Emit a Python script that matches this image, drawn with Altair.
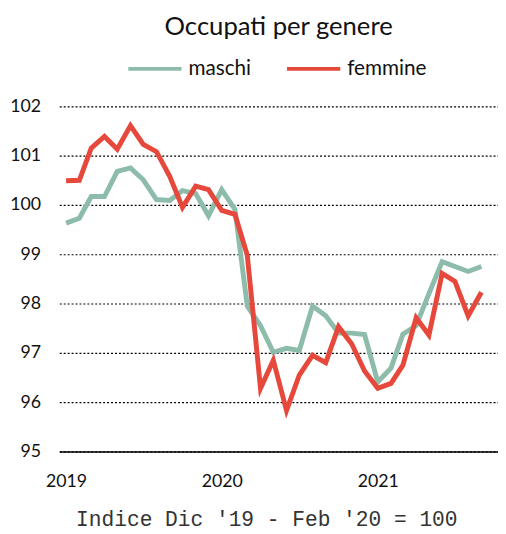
import altair as alt
import pandas as pd

FONT = "Lato"
MONO = "Liberation Mono"

months = pd.date_range("2019-01-01", "2021-09-01", freq="MS").strftime("%Y-%m-%d").tolist()

maschi = [99.63, 99.73, 100.17, 100.17, 100.68, 100.75, 100.51, 100.11, 100.09, 100.29, 100.23, 99.78,
          100.31, 99.91, 97.95, 97.55, 97.01, 97.09, 97.05, 97.95, 97.75, 97.40, 97.40, 97.37,
          96.41, 96.69, 97.38, 97.55, 98.20, 98.85, 98.75, 98.65, 98.75]
femmine = [100.49, 100.50, 101.15, 101.39, 101.13, 101.61, 101.23, 101.08, 100.58, 99.95, 100.38, 100.31,
           99.89, 99.81, 98.98, 96.28, 96.85, 95.83, 96.55, 96.95, 96.80, 97.53, 97.18, 96.63,
           96.28, 96.38, 96.75, 97.71, 97.36, 98.61, 98.45, 97.75, 98.23]

series_names = ["maschi", "femmine"]
series_colors = ["#8dbcab", "#e6483c"]
y_ticks = [95, 96, 97, 98, 99, 100, 101, 102]
x_years = [2019, 2020, 2021]
title_text = "Occupati per genere"
footer_text = "Indice Dic '19 - Feb '20 = 100"

rows = []
for name, vals in zip(series_names, [maschi, femmine]):
    for m, v in zip(months, vals):
        rows.append({"mese": m, "valore": v, "genere": name})
df = pd.DataFrame(rows)

x_enc = alt.X(
    "mese:T",
    scale=alt.Scale(domain=[alt.DateTime(year=2018, month=12, date=16, utc=True),
                            alt.DateTime(year=2021, month=10, date=10, utc=True)]),
    axis=alt.Axis(
        values=[alt.DateTime(year=y, month=1, date=1, utc=True) for y in x_years],
        labelExpr="utcFormat(datum.value, '%Y')",
        grid=False, ticks=False, domain=True, domainColor="#000", domainWidth=1.5,
        labelPadding=22, labelFont=FONT, labelFontSize=18, labelColor="#111",
        title=footer_text, titleFont=MONO, titleFontSize=21.5, titleFontWeight="normal",
        titleColor="#333", titleX=210, titleY=75, titleBaseline="alphabetic",
    ),
)
y_enc = alt.Y(
    "valore:Q",
    scale=alt.Scale(domain=[95, 102], nice=False, zero=False),
    axis=alt.Axis(
        values=y_ticks, title=None, domain=False, ticks=False, labelPadding=19,
        labelFont=FONT, labelFontSize=18, labelColor="#111",
        grid=True, gridColor="#000", gridDash=[2, 2], gridWidth=1.2,
    ),
)
color_enc = alt.Color(
    "genere:N",
    scale=alt.Scale(domain=series_names, range=series_colors),
    legend=alt.Legend(
        title=None, orient="none", legendX=68, legendY=-67, direction="horizontal",
        symbolType="stroke", symbolSize=2916, symbolStrokeWidth=4,
        labelFont=FONT, labelFontSize=21, labelOffset=5, columnPadding=28, labelColor="#111",
    ),
)

layers = [
    alt.Chart(df).transform_filter(alt.datum.genere == name)
    .mark_line(strokeWidth=5)
    .encode(x=x_enc, y=y_enc, color=color_enc)
    for name in series_names
]

chart = alt.layer(*layers).properties(
    width=445, height=350,
    autosize=alt.AutoSizeParams(type="none"),
    padding={"left": 52, "top": 96, "right": 0, "bottom": 80},
    title=alt.TitleParams(title_text, font=FONT, fontSize=26, fontWeight="normal",
                          anchor="middle", color="#111", offset=0),
    background="white",
).configure_view(stroke=None)

chart.save("out.html", embed_options={"renderer": "svg", "actions": False})
